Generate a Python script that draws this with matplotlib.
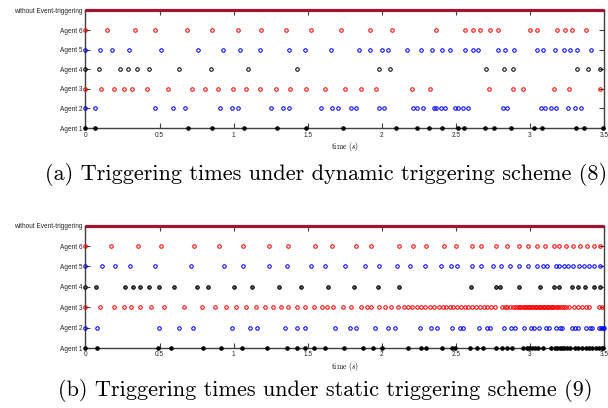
import numpy as np
import matplotlib.pyplot as plt

plt.rcParams['mathtext.fontset'] = 'cm'
plt.rcParams['font.family'] = ['Liberation Sans', 'DejaVu Sans']

# ---- labels / ticks ----
y_labels = ['Agent 1', 'Agent 2', 'Agent 3', 'Agent 4', 'Agent 5', 'Agent 6',
            'without Event-triggering']
x_ticks = [0, 0.5, 1, 1.5, 2, 2.5, 3, 3.5]
x_tick_labels = ['0', '0.5', '1', '1.5', '2', '2.5', '3', '3.5']
horizon = [0, 3.5]   # continuous triggering span
captions = ['(a) Triggering times under dynamic triggering scheme (8)',
            '(b) Triggering times under static triggering scheme (9)']

# ---- (a) dynamic triggering scheme: triggering instants (s) ----
dyn_agent1 = [0, 0.063, 0.692, 0.856, 1.072, 1.290, 1.489, 1.737, 2.098, 2.239,
              2.321, 2.405, 2.515, 2.554, 2.697, 2.760, 2.873, 3.029, 3.079,
              3.312, 3.363, 3.490]
dyn_agent2 = [0, 0.063, 0.472, 0.591, 0.670, 0.908, 0.991, 1.029, 1.253, 1.333,
              1.373, 1.590, 1.661, 1.704, 1.790, 1.826, 1.980, 2.014, 2.210,
              2.240, 2.278, 2.350, 2.368, 2.400, 2.427, 2.491, 2.514, 2.550,
              2.584, 2.815, 2.845, 3.076, 3.105, 3.141, 3.173, 3.257, 3.305,
              3.345]
dyn_agent3 = [0, 0.103, 0.191, 0.258, 0.317, 0.416, 0.555, 0.717, 0.804, 0.897,
              0.996, 1.081, 1.177, 1.283, 1.380, 1.486, 1.620, 1.749, 1.862,
              1.962, 2.204, 2.324, 2.727, 2.883, 2.956, 3.162, 3.264, 3.473]
dyn_agent4 = [0, 0.094, 0.231, 0.290, 0.346, 0.431, 0.629, 0.849, 1.094, 1.428,
              1.980, 2.054, 2.702, 2.822, 2.883, 3.321, 3.389, 3.473]
dyn_agent5 = [0, 0.097, 0.178, 0.292, 0.510, 0.760, 0.926, 1.043, 1.181, 1.376,
              1.480, 1.656, 1.844, 1.919, 2.002, 2.045, 2.167, 2.262, 2.336,
              2.407, 2.460, 2.563, 2.613, 2.647, 2.783, 2.833, 2.892, 3.046,
              3.091, 3.169, 3.230, 3.273, 3.321, 3.409]
dyn_agent6 = [0, 0.146, 0.333, 0.472, 0.685, 0.854, 1.027, 1.186, 1.351, 1.520,
              1.722, 1.921, 2.068, 2.368, 2.565, 2.615, 2.663, 2.730, 2.787,
              3.000, 3.050, 3.185, 3.234, 3.281, 3.380]

# ---- (b) static triggering scheme: triggering instants (s) ----
sta_agent1 = [0, 0.076, 0.490, 0.580, 0.791, 0.915, 1.054, 1.224, 1.362, 1.430,
              1.482, 1.541, 1.618, 1.742, 1.876, 1.941, 2.002, 2.179, 2.262,
              2.296, 2.409, 2.475, 2.494, 2.593, 2.645, 2.680, 2.773, 2.809,
              2.844, 2.878, 2.955, 2.977, 2.995, 3.011, 3.032, 3.057, 3.091,
              3.145, 3.166, 3.186, 3.200, 3.215, 3.231, 3.249, 3.272, 3.304,
              3.327, 3.354, 3.379, 3.397, 3.422, 3.447, 3.467, 3.485, 3.494]
sta_agent2 = [0, 0.076, 0.499, 0.631, 0.728, 0.991, 1.110, 1.155, 1.344, 1.430,
              1.480, 1.686, 1.787, 1.828, 1.955, 2.043, 2.090, 2.256, 2.331,
              2.372, 2.471, 2.528, 2.551, 2.653, 2.710, 2.730, 2.824, 2.874,
              2.898, 2.959, 3.009, 3.025, 3.063, 3.111, 3.129, 3.177, 3.202,
              3.218, 3.283, 3.306, 3.322, 3.376, 3.404, 3.417, 3.465, 3.478,
              3.490, 3.499]
sta_agent3 = [0, 0.101, 0.193, 0.258, 0.310, 0.371, 0.445, 0.533, 0.663, 0.789,
              0.872, 0.946, 1.016, 1.085, 1.148, 1.210, 1.269, 1.317, 1.369,
              1.425, 1.482, 1.545, 1.597, 1.629, 1.674, 1.740, 1.794, 1.857,
              1.898, 1.928, 1.980, 2.025, 2.061, 2.109, 2.152, 2.176, 2.206,
              2.238, 2.265, 2.294, 2.324, 2.353, 2.384, 2.412, 2.434, 2.459,
              2.484, 2.509, 2.534, 2.561, 2.584, 2.611, 2.636, 2.661, 2.688,
              2.711, 2.736, 2.761, 2.811, 2.829, 2.847, 2.865, 2.883, 2.899,
              2.913, 2.924, 2.935, 2.947, 2.958, 2.967, 2.976, 2.985, 2.994,
              3.003, 3.012, 3.021, 3.031, 3.040, 3.049, 3.058, 3.067, 3.076,
              3.085, 3.094, 3.103, 3.112, 3.121, 3.130, 3.139, 3.149, 3.158,
              3.169, 3.180, 3.192, 3.203, 3.217, 3.230, 3.246, 3.262, 3.296,
              3.323, 3.350, 3.378, 3.400, 3.466, 3.489]
sta_agent4 = [0, 0.070, 0.265, 0.319, 0.369, 0.427, 0.494, 0.596, 0.751, 0.825,
              1.004, 1.126, 1.303, 1.457, 1.636, 1.812, 1.975, 2.118, 2.604,
              2.770, 2.800, 2.929, 3.070, 3.163, 3.197, 3.281, 3.327, 3.374,
              3.435, 3.474]
sta_agent5 = [0, 0.112, 0.202, 0.301, 0.467, 0.710, 0.933, 1.063, 1.242, 1.362,
              1.523, 1.618, 1.749, 1.887, 1.982, 2.104, 2.192, 2.294, 2.398,
              2.466, 2.507, 2.607, 2.672, 2.752, 2.808, 2.867, 2.929, 2.985,
              3.048, 3.087, 3.112, 3.173, 3.193, 3.227, 3.259, 3.290, 3.331,
              3.367, 3.397, 3.435, 3.474]
sta_agent6 = [0, 0.171, 0.357, 0.512, 0.730, 0.903, 1.063, 1.240, 1.364, 1.550,
              1.663, 1.824, 1.928, 2.113, 2.208, 2.301, 2.418, 2.502, 2.607,
              2.672, 2.772, 2.842, 2.924, 2.987, 3.046, 3.102, 3.161, 3.197,
              3.245, 3.290, 3.338, 3.383, 3.431, 3.476]

agent_colors = ['k', 'b', 'r', 'k', 'b', 'r']
axis_color = '#404040'


def draw_panel(ax, series, filled):
    # continuous triggering line on top
    ax.plot(horizon, [6, 6], color='#A2142F', lw=2.3, clip_on=False,
            solid_capstyle='butt', zorder=4)
    for k, times in enumerate(series):
        face = filled.get(k, 'none')
        ax.plot(times, np.full(len(times), k), linestyle='none', marker='o',
                ms=2.5, mew=0.75, mec=agent_colors[k], mfc=face, clip_on=False,
                zorder=3)
    ax.set_xlim(0, 3.5)
    ax.set_ylim(0, 6)
    ax.set_xticks(x_ticks)
    ax.set_xticklabels(x_tick_labels)
    ax.set_yticks(range(7))
    ax.set_yticklabels(y_labels)
    ax.tick_params(direction='in', length=3.5, width=0.8, color=axis_color,
                   labelsize=4.7, labelcolor='#262626', pad=2,
                   top=True, right=True)
    ax.tick_params(axis='x', pad=2.5)
    for s in ax.spines.values():
        s.set_color(axis_color)
        s.set_linewidth(1.0)
    ax.set_xlabel(r'$\mathrm{time}\ (s)$', fontsize=5.5, labelpad=1)


fig = plt.figure(figsize=(6.08, 4.08), dpi=100)

ax_a = fig.add_axes([0.1406, 0.686, 0.8528, 0.2885])
draw_panel(ax_a, [dyn_agent1, dyn_agent2, dyn_agent3,
                  dyn_agent4, dyn_agent5, dyn_agent6], filled={0: 'k'})

ax_b = fig.add_axes([0.1406, 0.147, 0.8528, 0.300])
draw_panel(ax_b, [sta_agent1, sta_agent2, sta_agent3,
                  sta_agent4, sta_agent5, sta_agent6],
           filled={0: 'k', 3: '#606060'})

fig.text(45 / 608, 1 - 175 / 408, captions[0], fontsize=16,
         family='cmr10', va='center', ha='left')
fig.text(58 / 608, 1 - 391 / 408, captions[1], fontsize=16,
         family='cmr10', va='center', ha='left')

fig.savefig('out.png', dpi=100)
